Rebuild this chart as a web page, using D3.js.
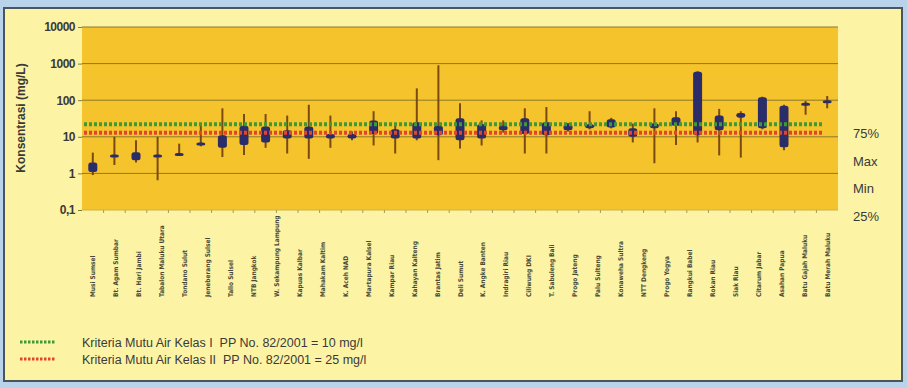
<!DOCTYPE html>
<html><head><meta charset="utf-8">
<script src="https://cdn.jsdelivr.net/npm/d3@7"></script>
<style>
html,body{margin:0;padding:0;background:#b9d3ea;}
svg{display:block;}
</style></head>
<body>
<svg id="chart" width="907" height="388"></svg>
<script>
// ---- data ----
const stationLabels = ["Musi Sumsel","Bt. Agam Sumbar","Bt. Hari Jambi","Tabalon Maluku Utara","Tondano Sulut","Jeneberang Sulsel","Tallo Sulsel","NTB Jangkok","W. Sekampung Lampung","Kapuas Kalbar","Mahakam Kaltim","K. Aceh NAD","Martapura Kalsel","Kampar Riau","Kahayan Kalteng","Brantas Jatim","Deli Sumut","K. Angke Banten","Indragiri Riau","Ciliwung DKI","T. Sabuleng Bali","Progo Jateng","Palu Sulteng","Konaweha Sultra","NTT Dengkeng","Progo Yogya","Rangkui Babel","Rokan Riau","Siak Riau","Citarum Jabar","Asahan Papua","Batu Gajah Maluku","Batu Merah Maluku"];
const minVals = [0.9,1.7,2.0,0.65,3.0,5.5,2.8,3.2,5.0,3.5,2.5,5.0,8.0,5.8,3.5,8.0,2.3,4.8,5.8,13,3.5,3.5,14,16,17,7,1.9,6,7,3.1,2.7,16,4.3,40,60];
const q1Vals  = [1.1,2.7,2.3,2.9,3.1,6.2,5.0,6.0,7.0,9.0,9.0,9.0,9.0,12,9.0,9.0,11,8.0,9.0,15,12,11,15,17,18,10,17,20,11,15,33,17,5.2,70,85];
const q3Vals  = [2.0,3.3,3.8,3.3,3.6,7.0,11,20,19,15,19,12,12,28,16,25,20,32,22,20,32,25,22,22,30,17,23,34,600,38,45,120,70,85,100];
const maxVals = [3.7,10,8,10,6.5,21,60,42,42,38,75,38,14,50,20,210,900,82,28,28,60,65,24,50,33,23,60,50,620,58,50,125,75,95,130];
const yTicks = [0.1,1,10,100,1000,10000];
const yTickLabels = ["0,1","1","10","100","1000","10000"];
const criteria = [
  {label:"Kriteria Mutu Air Kelas I  PP No. 82/2001 = 10 mg/l", drawnAt:22, color:"#3f9a36"},
  {label:"Kriteria Mutu Air Kelas II  PP No. 82/2001 = 25 mg/l", drawnAt:13, color:"#e2452b"}
];
const sideLabels = ["75%","Max","Min","25%"];

// ---- layout ----
const svg = d3.select("#chart");
const L = 82, R = 838, T = 27, B = 210;
const cols = d3.range(minVals.length);

svg.append("rect").attr("x",4).attr("y",8).attr("width",898).attr("height",373)
  .attr("fill","#fcf4a4").attr("stroke","#4a5560").attr("stroke-width",2);

const x = d3.scaleBand().domain(cols).range([L,R]).padding(0);
const y = d3.scaleLog().domain([0.1,10000]).range([B,T]);

svg.append("rect").attr("x",L).attr("y",T).attr("width",R-L).attr("height",B-T).attr("fill","#f5c32c");

// gridlines
svg.append("g").selectAll("line").data(yTicks.slice(1)).join("line")
  .attr("x1",L).attr("x2",R).attr("y1",d=>y(d)).attr("y2",d=>y(d))
  .attr("stroke","#8c7a2a").attr("stroke-width",1);

// y axis
const yAxis = d3.axisLeft(y).tickValues(yTicks).tickFormat((d,i)=>yTickLabels[i]).tickSize(4);
const gy = svg.append("g").attr("transform",`translate(${L},0)`).call(yAxis);
gy.select(".domain").remove();
gy.selectAll(".tick line").attr("stroke","#8c7a2a");
gy.selectAll(".tick text").attr("font-family","Liberation Sans, Arial, sans-serif")
  .attr("font-size",12).attr("font-weight","bold").attr("fill","#3a3a3a").attr("letter-spacing","-0.5");

// x axis line with small ticks
svg.append("line").attr("x1",L).attr("x2",R).attr("y1",B).attr("y2",B).attr("stroke","#c9b04a").attr("stroke-width",1);
svg.append("g").selectAll("line").data(cols.slice(1)).join("line")
  .attr("x1",d=>x(d)).attr("x2",d=>x(d)).attr("y1",B).attr("y2",B+3)
  .attr("stroke","#a89a50").attr("stroke-width",1);

// whiskers
const cx = i => x(i) + x.bandwidth()/2;
svg.append("g").selectAll("line").data(cols).join("line")
  .attr("x1",cx).attr("x2",cx)
  .attr("y1",i=>y(minVals[i])).attr("y2",i=>y(maxVals[i]))
  .attr("stroke","#7a4a12").attr("stroke-width",2);

// boxes
const bw = 9;
svg.append("g").selectAll("rect").data(cols).join("rect")
  .attr("x",i=>cx(i)-bw/2).attr("width",bw)
  .attr("y",i=>y(q3Vals[i])).attr("height",i=>Math.max(3,y(q1Vals[i])-y(q3Vals[i])))
  .attr("rx",2.5).attr("fill","#2b2c6a");

// criteria dotted lines
svg.append("g").selectAll("line").data(criteria).join("line")
  .attr("x1",L+2).attr("x2",R-15).attr("y1",d=>y(d.drawnAt)).attr("y2",d=>y(d.drawnAt))
  .attr("stroke",d=>d.color).attr("stroke-width",4).attr("stroke-dasharray","3,2");

// y title
svg.append("text").attr("transform","translate(25,118) rotate(-90)")
  .attr("text-anchor","middle").attr("font-family","Liberation Sans, Arial, sans-serif")
  .attr("font-size",12).attr("font-weight","bold").attr("fill","#3a3a3a")
  .text("Konsentrasi (mg/L)");

// category labels
const xl = d3.scalePoint().domain(stationLabels).range([cx(0), cx(cols.length-1)]);
svg.append("g").selectAll("text").data(stationLabels).join("text")
  .attr("transform",d=>`translate(${xl(d)+2.5},297) rotate(-90)`)
  .attr("text-anchor","start")
  .attr("font-family","DejaVu Sans Condensed, DejaVu Sans, sans-serif")
  .attr("font-size",6.5).attr("font-weight","bold").attr("fill","#4a4a3a")
  .text(d=>d);

// side labels
svg.append("g").selectAll("text").data(sideLabels).join("text")
  .attr("x",853).attr("y",(d,i)=>138+i*27.5)
  .attr("font-family","Liberation Sans, Arial, sans-serif")
  .attr("font-size",13).attr("fill","#3a3a3a").text(d=>d);

// legend
const lg = svg.append("g").selectAll("g").data(criteria).join("g")
  .attr("transform",(d,i)=>`translate(0,${342+i*17})`);
lg.append("line").attr("x1",20).attr("x2",55).attr("y1",0).attr("y2",0)
  .attr("stroke",d=>d.color).attr("stroke-width",3).attr("stroke-dasharray","2.5,1.5");
lg.append("text").attr("x",82).attr("y",5)
  .attr("font-family","Liberation Sans, Arial, sans-serif")
  .attr("font-size",12.5).attr("fill","#3a3a3a").style("white-space","pre")
  .text(d=>d.label);
</script>
</body></html>
